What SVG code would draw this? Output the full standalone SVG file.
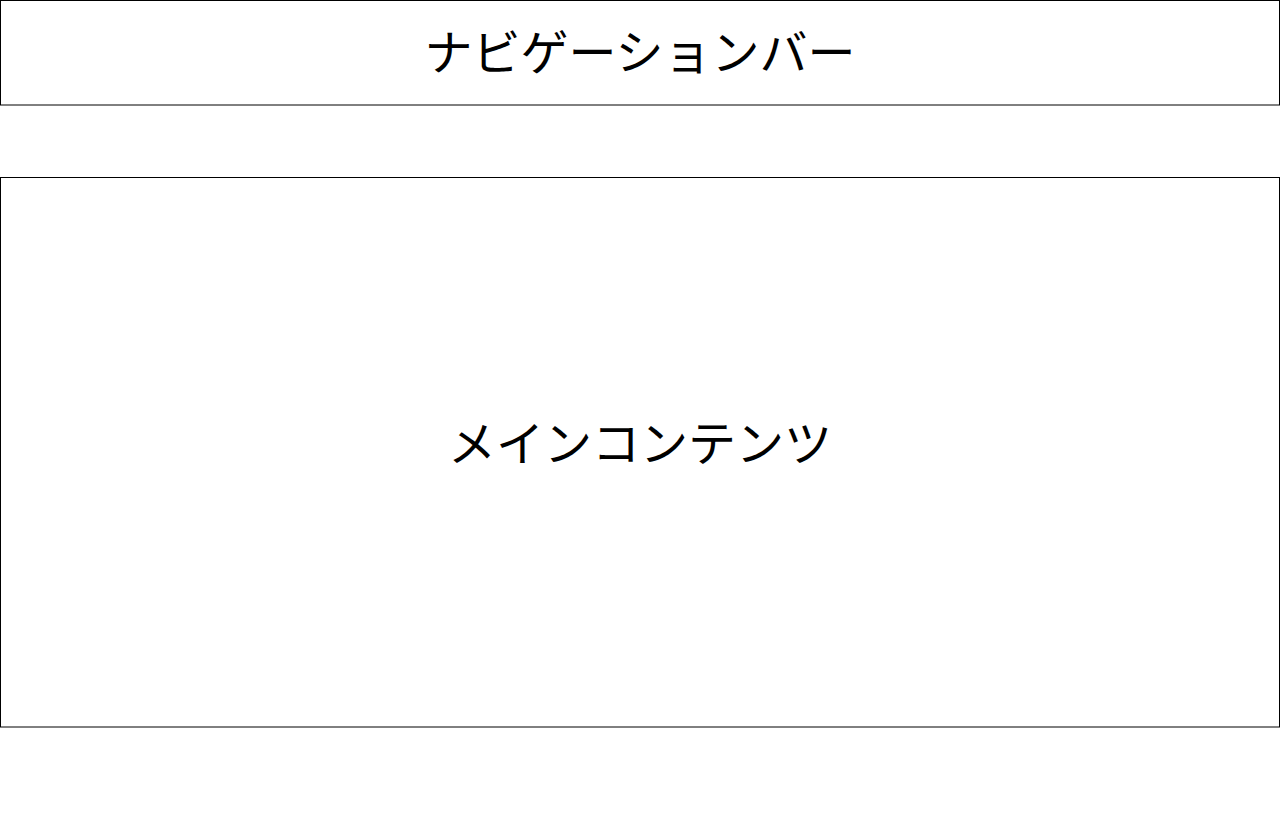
<svg xmlns="http://www.w3.org/2000/svg" width="1280" height="832" viewBox="0 0 1280 832">
<style>
.box{fill:#fff;stroke:#000;stroke-width:1}
.lbl{font-family:"Noto Sans CJK JP","Noto Sans",sans-serif;font-size:48px;fill:#000;text-anchor:middle;dominant-baseline:central}
</style>
<rect width="1280" height="832" fill="#fff"/>
<g id="navbar">
<rect class="box" x="0.5" y="0.5" width="1279" height="104.5"/>
<text class="lbl" x="640" y="49">ナビゲーションバー</text>
</g>
<g id="main-content">
<rect class="box" x="0.5" y="177.5" width="1279" height="549.5"/>
<text class="lbl" x="640" y="440">メインコンテンツ</text>
</g>
<g id="connectors"></g>
</svg>
